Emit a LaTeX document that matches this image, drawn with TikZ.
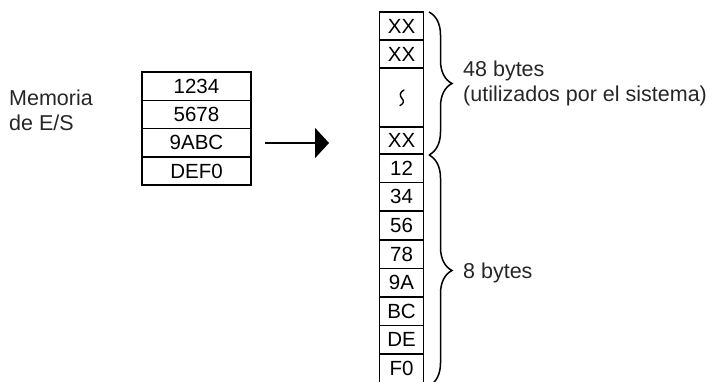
\documentclass[tikz,border=0pt]{standalone}
\usepackage{fontspec}
\setmainfont{Liberation Sans}
\usetikzlibrary{arrows.meta,decorations.pathreplacing}
\definecolor{labelc}{gray}{0.15}
\begin{document}
\begin{tikzpicture}[x=1pt,y=-1pt,
  cellbox/.style={draw, line width=1.6pt, inner sep=0pt, outer sep=0pt, anchor=north west,
    font=\fontsize{20.5}{20.5}\selectfont},
  lcell/.style={cellbox, minimum width=109pt, minimum height=28.3pt},
  rcell/.style={cellbox, minimum width=44pt, minimum height=#1},
  rcell/.default=28.6pt,
  labeltext/.style={inner sep=0pt, text=labelc, font=\fontsize{21.5}{25}\selectfont, align=left},
  bracepath/.style={decorate, decoration={brace, amplitude=23pt}, line width=1.5pt}
]
\useasboundingbox (0,0) rectangle (715,381);

% label left
\node[labeltext, anchor=west] (mem) at (9,110) {Memoria\\de E/S};

% left memory box
\node[lcell] (l1) at (142,72) {1234};
\node[lcell] (l2) at (142,100.3) {5678};
\node[lcell] (l3) at (142,128.6) {9ABC};
\node[lcell] (l4) at (142,156.9) {DEF0};

% arrow
\coordinate (as) at (265,143);
\coordinate (ae) at (329,143);
\draw[line width=2pt, -{Triangle[length=14pt,width=30pt]}] (as) -- (ae);

% right column
\node[rcell=28pt] (r1) at (379.5,12) {XX};
\node[rcell=28pt] (r2) at (379.5,40) {XX};
\node[rcell=59pt] (r3) at (379.5,68) {};
\node[rcell=27pt] (r4) at (379.5,127) {XX};
\node[rcell] (r5) at (379.5,154) {12};
\node[rcell] (r6) at (379.5,182.6) {34};
\node[rcell] (r7) at (379.5,211.2) {56};
\node[rcell] (r8) at (379.5,239.8) {78};
\node[rcell] (r9) at (379.5,268.4) {9A};
\node[rcell] (r10) at (379.5,297) {BC};
\node[rcell] (r11) at (379.5,325.6) {DE};
\node[rcell] (r12) at (379.5,354.2) {F0};
\draw[line width=2.8pt] (r4.south west) -- (r4.south east);
% squiggle (omitted rows)
\draw[line width=1.4pt, line cap=round]
  ([shift={(2.5,-7.5)}]r3.center) .. controls ([shift={(-2,-5.5)}]r3.center) and ([shift={(-2,-1.5)}]r3.center) .. ([shift={(0.5,1)}]r3.center)
  .. controls ([shift={(3,3.5)}]r3.center) and ([shift={(2,6.5)}]r3.center) .. ([shift={(-1.5,8)}]r3.center);

% braces
\coordinate (b1t) at (429,12);
\coordinate (b1b) at (429,155);
\coordinate (b2t) at (429,155);
\coordinate (b2b) at (429,386);
\draw[bracepath] (b1t) -- (b1b);
\draw[bracepath] (b2t) -- (b2b);

% labels right
\node[labeltext, anchor=west] (sys) at (463,83) {48 bytes\\(utilizados por el sistema)};
\node[labeltext, anchor=base west] (eight) at (463,278) {8 bytes};
\end{tikzpicture}
\end{document}
